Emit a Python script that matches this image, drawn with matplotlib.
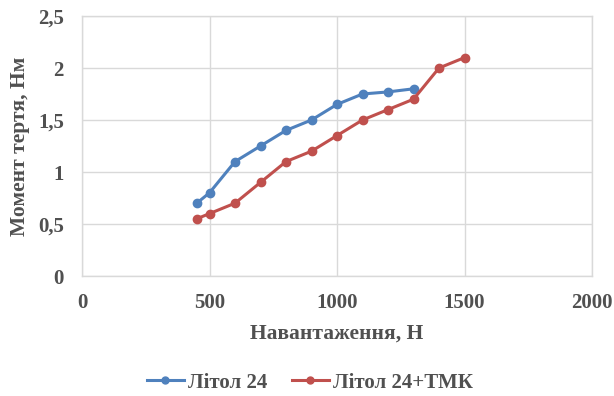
import matplotlib
matplotlib.use("Agg")
import matplotlib.pyplot as plt
from matplotlib.ticker import FuncFormatter, MultipleLocator

load_n = [450, 500, 600, 700, 800, 900, 1000, 1100, 1200, 1300]
litol24 = [0.70, 0.80, 1.10, 1.25, 1.40, 1.50, 1.65, 1.75, 1.77, 1.80]

load_n_tmk = [450, 500, 600, 700, 800, 900, 1000, 1100, 1200, 1300, 1400, 1500]
litol24_tmk = [0.55, 0.60, 0.70, 0.90, 1.10, 1.20, 1.35, 1.50, 1.60, 1.70, 2.00, 2.10]

series_names = ["Літол 24", "Літол 24+ТМК"]
x_title = "Навантаження, Н"
y_title = "Момент тертя, Нм"

plt.rcParams["font.family"] = ["Liberation Serif", "DejaVu Serif"]
text_color = "#505050"

fig = plt.figure(figsize=(6.14, 3.96), dpi=100)
ax = fig.add_axes([82 / 614, 1 - 276 / 396, 510 / 614, 260 / 396])

ax.plot(load_n, litol24, color="#4F81BD", lw=2.2, marker="o", ms=6,
        label=series_names[0], zorder=3)
ax.plot(load_n_tmk, litol24_tmk, color="#C0504D", lw=2.2, marker="o", ms=6,
        label=series_names[1], zorder=3)

ax.set_xlim(0, 2000)
ax.set_ylim(0, 2.5)
ax.xaxis.set_major_locator(MultipleLocator(500))
ax.yaxis.set_major_locator(MultipleLocator(0.5))
ax.yaxis.set_major_formatter(FuncFormatter(
    lambda v, p: f"{v:g}".replace(".", ",")))

ax.grid(True, color="#D9D9D9", lw=1)
ax.set_axisbelow(True)
for s in ax.spines.values():
    s.set_color("#D9D9D9")
    s.set_linewidth(1)
ax.tick_params(length=0, labelsize=15, labelcolor=text_color)
ax.tick_params(axis="y", pad=13)
ax.tick_params(axis="x", pad=12)
for lab in ax.get_xticklabels() + ax.get_yticklabels():
    lab.set_fontweight("bold")

ax.set_xlabel(x_title, fontsize=15.5, fontweight="bold", color=text_color, labelpad=8)
ax.set_ylabel(y_title, fontsize=15.5, fontweight="bold", color=text_color, labelpad=6)

leg = ax.legend(loc="center", bbox_to_anchor=(0.447, -0.41), ncol=2, frameon=False,
                handlelength=1.75, columnspacing=1.2, handletextpad=0.2,
                prop={"weight": "bold", "size": 15})
for t in leg.get_texts():
    t.set_color(text_color)
for h in leg.legend_handles:
    h.set_markersize(5)

fig.savefig("out.png", dpi=100)
